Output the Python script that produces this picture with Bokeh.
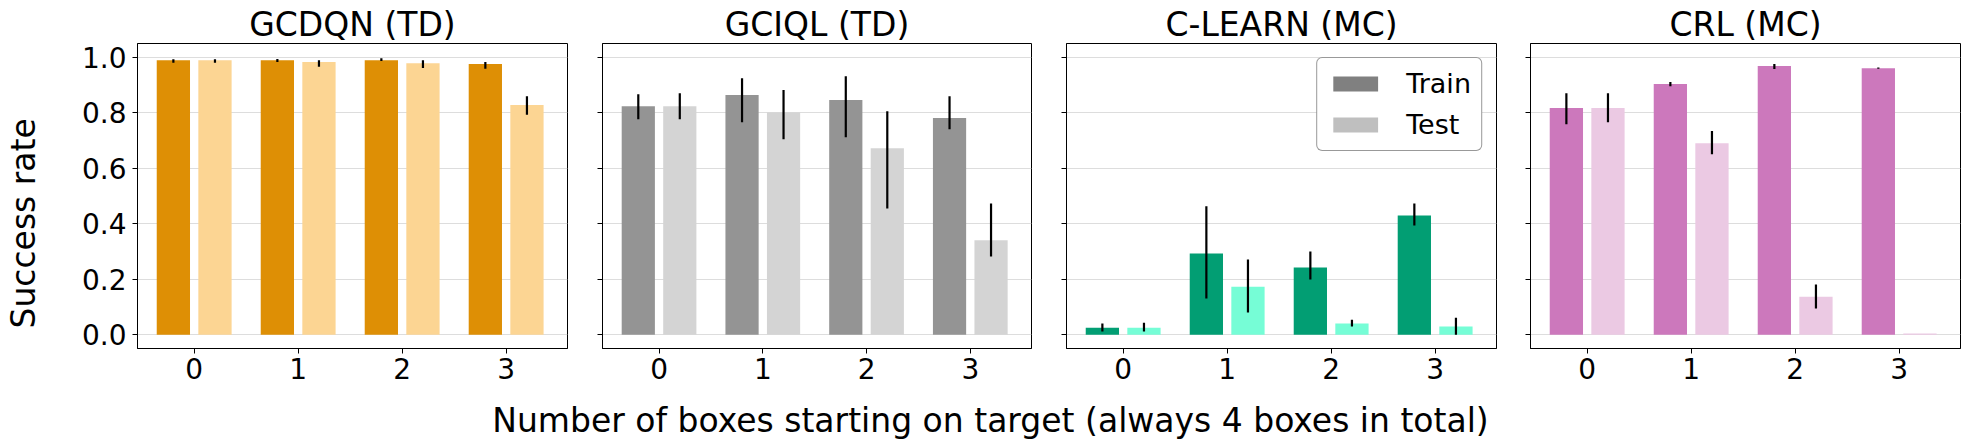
import numpy as np
from bokeh.plotting import figure
from bokeh.layouts import row, column
from bokeh.models import (Range1d, FixedTicker, Legend, LegendItem,
                          CustomJSTickFormatter)
from bokeh.core.properties import value
from bokeh.embed import file_html
from bokeh.resources import INLINE

# ---------------- data ----------------
categories = [0, 1, 2, 3]
x_tick_labels = ["0", "1", "2", "3"]
y_ticks = [0.0, 0.2, 0.4, 0.6, 0.8, 1.0]
y_tick_labels = ["0.0", "0.2", "0.4", "0.6", "0.8", "1.0"]

titles = ["GCDQN (TD)", "GCIQL (TD)", "C-LEARN (MC)", "CRL (MC)"]
y_label = "Success rate"
x_label = "Number of boxes starting on target (always 4 boxes in total)"

gcdqn_train = [0.990, 0.990, 0.990, 0.976]
gcdqn_train_lo = [0.981, 0.983, 0.987, 0.959]
gcdqn_train_hi = [0.993, 0.994, 0.997, 0.983]
gcdqn_test = [0.990, 0.983, 0.979, 0.828]
gcdqn_test_lo = [0.981, 0.966, 0.962, 0.793]
gcdqn_test_hi = [0.993, 0.990, 0.990, 0.860]

gciql_train = [0.824, 0.864, 0.846, 0.781]
gciql_train_lo = [0.777, 0.766, 0.712, 0.741]
gciql_train_hi = [0.867, 0.925, 0.932, 0.860]
gciql_test = [0.824, 0.802, 0.672, 0.340]
gciql_test_lo = [0.777, 0.705, 0.455, 0.282]
gciql_test_hi = [0.871, 0.882, 0.806, 0.473]

clearn_train = [0.025, 0.293, 0.242, 0.430]
clearn_train_lo = [0.011, 0.130, 0.199, 0.394]
clearn_train_hi = [0.040, 0.463, 0.300, 0.473]
clearn_test = [0.025, 0.173, 0.040, 0.029]
clearn_test_lo = [0.011, 0.080, 0.029, 0.000]
clearn_test_hi = [0.043, 0.271, 0.054, 0.061]

crl_train = [0.817, 0.904, 0.969, 0.961]
crl_train_lo = [0.759, 0.896, 0.958, 0.959]
crl_train_hi = [0.871, 0.911, 0.976, 0.963]
crl_test = [0.817, 0.690, 0.137, 0.004]
crl_test_lo = [0.766, 0.651, 0.094, 0.004]
crl_test_hi = [0.871, 0.734, 0.181, 0.004]

train_colors = ["#DE8F05", "#949494", "#029E73", "#CC78BC"]
test_colors = ["#FCD593", "#D4D4D4", "#76FDD6", "#EBC9E3"]

legend_labels = ["Train", "Test"]
legend_colors = ["#808080", "#BFBFBF"]

FONT = "DejaVu Sans"
PANEL_H = 390
TOP = 43
FRAME_H = 305


def make_panel(idx, train, tr_lo, tr_hi, test, te_lo, te_hi, width, left, right, show_labels):
    p = figure(width=width, height=PANEL_H,
               x_range=Range1d(-0.545, 3.59), y_range=Range1d(-0.05, 1.05),
               output_backend="svg", toolbar_location=None,
               min_border_left=left, min_border_right=right,
               min_border_top=TOP, min_border_bottom=PANEL_H - TOP - FRAME_H)
    p.title.text = titles[idx]
    p.title.text_font = FONT
    p.title.text_font_size = "33px"
    p.title.text_font_style = "normal"
    p.title.text_color = "black"
    p.title.align = "center"
    p.title.standoff = 0
    p.title.offset = 0

    xs = np.array(categories, dtype=float)
    p.vbar(x=xs - 0.2, top=train, bottom=0, width=0.32,
           fill_color=train_colors[idx], line_color=None)
    p.vbar(x=xs + 0.2, top=test, bottom=0, width=0.32,
           fill_color=test_colors[idx], line_color=None)
    p.segment(x0=xs - 0.2, y0=tr_lo, x1=xs - 0.2, y1=tr_hi,
              line_color="black", line_width=2.2)
    p.segment(x0=xs + 0.2, y0=te_lo, x1=xs + 0.2, y1=te_hi,
              line_color="black", line_width=2.2)

    p.xaxis.ticker = FixedTicker(ticks=categories)
    p.xaxis.major_label_overrides = {c: l for c, l in zip(categories, x_tick_labels)}
    p.yaxis.ticker = FixedTicker(ticks=y_ticks)
    if show_labels:
        p.yaxis.major_label_overrides = {t: l for t, l in zip(y_ticks, y_tick_labels)}
    else:
        p.yaxis.formatter = CustomJSTickFormatter(code="return '';")

    for ax in (p.xaxis, p.yaxis):
        ax.axis_line_color = "black"
        ax.major_tick_line_color = "black"
        ax.major_tick_out = 5
        ax.major_tick_in = 0
        ax.minor_tick_line_color = None
        ax.major_label_text_font = FONT
        ax.major_label_text_font_size = "28px"
        ax.major_label_text_color = "black"
    p.xaxis.major_label_standoff = 4
    p.yaxis.major_label_standoff = 6 if show_labels else 0

    p.xgrid.visible = False
    p.ygrid.ticker = FixedTicker(ticks=y_ticks)
    p.ygrid.grid_line_color = "#DDDDDD"
    p.ygrid.grid_line_width = 1

    p.outline_line_color = "black"
    p.outline_line_width = 1
    p.background_fill_color = "white"
    return p


p1 = make_panel(0, gcdqn_train, gcdqn_train_lo, gcdqn_train_hi,
                gcdqn_test, gcdqn_test_lo, gcdqn_test_hi, 527, 79, 18, True)
p2 = make_panel(1, gciql_train, gciql_train_lo, gciql_train_hi,
                gciql_test, gciql_test_lo, gciql_test_hi, 463, 17, 17, False)
p3 = make_panel(2, clearn_train, clearn_train_lo, clearn_train_hi,
                clearn_test, clearn_test_lo, clearn_test_hi, 465, 18, 17, False)
p4 = make_panel(3, crl_train, crl_train_lo, crl_train_hi,
                crl_test, crl_test_lo, crl_test_hi, 457, 17, 10, False)

# legend in C-LEARN panel: gray proxy bars of zero height
items = []
for lab, col in zip(legend_labels, legend_colors):
    r = p3.vbar(x=[categories[0]], top=[0.0], bottom=[0.0], width=0.32,
                fill_color=col, line_color=None)
    items.append(LegendItem(label=lab, renderers=[r]))
leg = Legend(items=items, location="top_right",
             label_text_font=FONT, label_text_font_size="27px",
             label_text_color="black",
             glyph_width=56, glyph_height=19, label_standoff=23,
             padding=10, spacing=10, margin=14,
             border_line_color="#333333", border_line_width=1.3,
             background_fill_color="white", background_fill_alpha=1.0)
if "border_radius" in Legend.properties():
    leg.border_radius = 6
p3.add_layout(leg)

# y label column (data units == pixels)
YL_W = 58
yl = figure(width=YL_W, height=PANEL_H, output_backend="svg", toolbar_location=None,
            x_range=Range1d(0, YL_W), y_range=Range1d(0, PANEL_H),
            x_axis_type=None, y_axis_type=None, min_border=0)
yl.grid.visible = False
yl.outline_line_color = None
yl.text(x=[23], y=[PANEL_H - 230], text=[y_label], angle=np.pi / 2,
        text_align="center", text_baseline="middle",
        text_font=value(FONT), text_font_size="33px", text_color="black")

# x label row (data units == pixels)
XL_W, XL_H = 1970, 439 - PANEL_H
xl = figure(width=XL_W, height=XL_H, output_backend="svg", toolbar_location=None,
            x_range=Range1d(0, XL_W), y_range=Range1d(0, XL_H),
            x_axis_type=None, y_axis_type=None, min_border=0)
xl.grid.visible = False
xl.outline_line_color = None
xl.text(x=[990], y=[19.5], text=[x_label],
        text_align="center", text_baseline="alphabetic", text_line_height=1.0,
        text_font=value(FONT), text_font_size="33px", text_color="black")

layout = column(row(yl, p1, p2, p3, p4), xl)

open("out.html", "w").write(file_html(layout, INLINE))
